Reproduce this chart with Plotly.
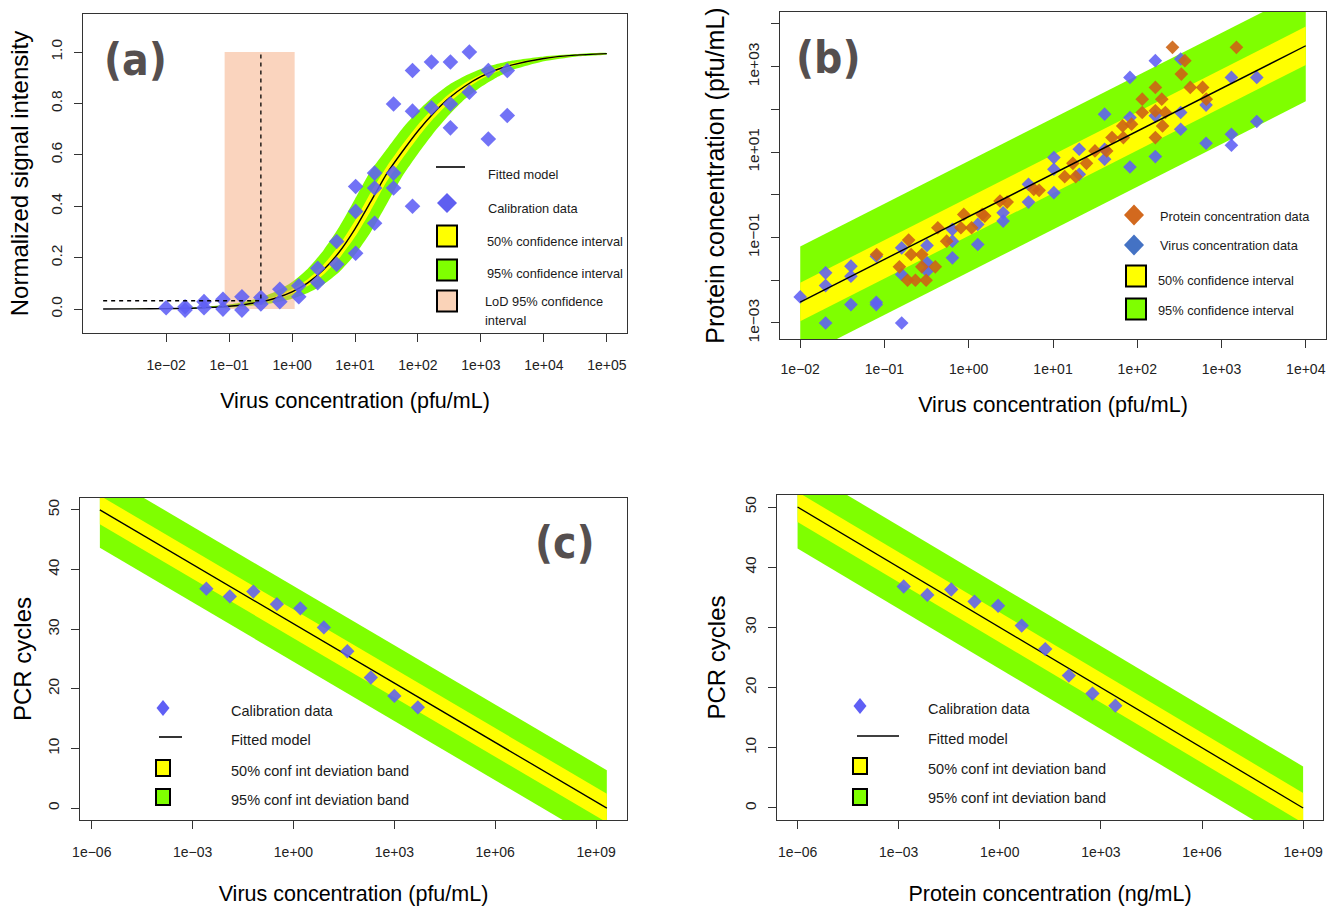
import numpy as np
import plotly.graph_objects as go

W, H = 1330, 909

# ---------------- Panel (a): signal vs virus concentration ----------------
sig_conc = [0.01, 0.02, 0.02, 0.04, 0.04, 0.08, 0.08, 0.16, 0.16, 0.32, 0.32,
            0.64, 0.64, 1.28, 1.28, 2.56, 2.56, 5.12, 5.12, 10.24, 10.24, 10.24,
            20.48, 20.48, 20.48, 40.96, 40.96, 40.96, 81.92, 81.92, 81.92,
            163.84, 163.84, 327.68, 327.68, 327.68, 655.36, 655.36,
            1310.72, 1310.72, 2621.44, 2621.44]
sig_signal = [0.005, 0.009, -0.004, 0.029, 0.005, 0.038, 0.0, 0.048, -0.004, 0.045, 0.02,
              0.077, 0.029, 0.091, 0.048, 0.159, 0.103, 0.263, 0.174, 0.477, 0.38, 0.217,
              0.529, 0.471, 0.334, 0.798, 0.529, 0.471, 0.928, 0.77, 0.40,
              0.961, 0.783, 0.961, 0.798, 0.705, 1.0, 0.844,
              0.928, 0.662, 0.928, 0.753]

sig_curve_log10x = [-3, -2.5, -2, -1.5, -1, -0.75, -0.5, -0.25, 0, 0.25, 0.5, 0.75, 1,
                    1.25, 1.5, 1.75, 2, 2.25, 2.5, 2.75, 3, 3.25, 3.5, 4, 4.5, 5]
sig_fit = [0.0003, 0.0007, 0.0018, 0.0045, 0.0112, 0.0177, 0.0278, 0.0433, 0.067, 0.102,
           0.153, 0.222, 0.312, 0.418, 0.525, 0.612, 0.693, 0.763, 0.822, 0.868, 0.904,
           0.931, 0.950, 0.975, 0.988, 0.994]
sig_ci50_lo = [0.0002, 0.0006, 0.0016, 0.0039, 0.0097, 0.0153, 0.0241, 0.0376, 0.0583, 0.0894,
               0.1346, 0.198, 0.281, 0.383, 0.495, 0.585, 0.668, 0.742, 0.804, 0.854, 0.894,
               0.923, 0.945, 0.972, 0.986, 0.993]
sig_ci50_hi = [0.0003, 0.0008, 0.0021, 0.0052, 0.0130, 0.0205, 0.0320, 0.0499, 0.0768, 0.1164,
               0.1728, 0.249, 0.344, 0.454, 0.553, 0.639, 0.717, 0.783, 0.838, 0.881, 0.913,
               0.938, 0.956, 0.978, 0.989, 0.995]
sig_ci95_lo = [0.0002, 0.0005, 0.0011, 0.0027, 0.0066, 0.0105, 0.0165, 0.0259, 0.0405, 0.063,
               0.096, 0.144, 0.212, 0.300, 0.407, 0.516, 0.604, 0.686, 0.757, 0.818, 0.864,
               0.901, 0.930, 0.964, 0.982, 0.991]
sig_ci95_hi = [0.0004, 0.0012, 0.0030, 0.0074, 0.0183, 0.0286, 0.0446, 0.069, 0.105, 0.157,
               0.229, 0.320, 0.428, 0.538, 0.621, 0.702, 0.771, 0.828, 0.874, 0.908, 0.934,
               0.953, 0.967, 0.983, 0.992, 0.996]
lod_conc = 0.32          # LoD estimate (pfu/mL)
lod_ci = [0.085, 1.1]    # LoD 95% confidence interval
lod_signal = 0.0325      # signal threshold
lod_box_signal = [0.0, 1.0]
sig_xmin = 0.001

# ---------------- Panel (b): protein vs virus concentration ----------------
virus_conc = [0.01,
              0.02, 0.02, 0.02,
              0.04, 0.04, 0.04,
              0.08, 0.08, 0.08,
              0.16, 0.16, 0.16,
              0.32, 0.32, 0.32,
              0.64, 0.64, 0.64,
              1.28, 1.28,
              2.56, 2.56,
              5.12, 5.12,
              10.24, 10.24, 10.24,
              20.48, 20.48,
              40.96, 40.96, 40.96,
              81.92, 81.92, 81.92,
              163.84, 163.84, 163.84,
              327.68, 327.68, 327.68,
              655.36, 655.36,
              1310.72, 1310.72, 1310.72,
              2621.44, 2621.44]
virus_prot_log10 = [-2.39,
                    -1.827, -2.124, -3.0,
                    -1.67, -1.905, -2.57,
                    -2.515, -2.57, -1.436,
                    -1.24, -1.866, -3.0,
                    -1.186, -1.592, -1.79,
                    -0.81, -1.084, -1.475,
                    -0.693, -1.162,
                    -0.419, -0.615,
                    0.246, -0.169,
                    0.871, 0.598, 0.05,
                    1.067, 0.48,
                    1.888, 1.067, 0.832,
                    2.748, 1.81, 0.652,
                    3.14, 1.85, 0.895,
                    3.18, 1.927, 1.536,
                    2.10, 1.208,
                    2.748, 1.419, 1.161,
                    2.748, 1.716]
protein_x_log10 = [-1.093, -0.823, -0.713, -0.684, -0.726, -0.633, -0.557, -0.557, -0.506,
                   -0.397, -0.367, -0.262, -0.093, -0.059, 0.034, 0.160, 0.190, 0.371,
                   0.456, 0.772, 0.835, 1.139, 1.236, 1.27, 1.397, 1.498, 1.637, 1.70,
                   1.827, 1.835, 1.932, 2.059, 2.059, 2.215, 2.215, 2.215, 2.291, 2.30,
                   2.333, 2.418, 2.523, 2.565, 2.629, 2.776, 2.819, 3.177]
protein_y_log10 = [-1.397, -1.686, -1.06, -1.397, -2.0, -2.0, -1.397, -1.686, -2.0,
                   -1.686, -0.771, -1.084, -0.771, -0.458, -0.771, -0.458, -0.497, -0.145,
                   -0.169, 0.128, 0.105, 0.426, 0.738, 0.426, 0.738, 1.028, 1.028, 1.341,
                   1.614, 1.341, 1.654, 2.24, 1.927, 2.514, 1.966, 1.341, 2.24, 1.614,
                   1.927, 3.452, 2.827, 3.14, 2.514, 2.514, 2.24, 3.452]
prot_fit_conc = [0.01, 1e4]
prot_fit_log10 = [-2.51, 3.49]
prot_ci50_lo_log10 = [-2.96, 3.04]
prot_ci50_hi_log10 = [-2.06, 3.94]
prot_ci95_lo_log10 = [-3.81, 2.19]
prot_ci95_hi_log10 = [-1.21, 4.79]

# ---------------- Panel (c): PCR cycles vs virus concentration ----------------
pcr_virus_conc = [0.00256, 0.0128, 0.064, 0.32, 1.6, 8, 40, 200, 1000, 5000]
pcr_virus_ct = [36.8, 35.5, 36.3, 34.2, 33.5, 30.3, 26.3, 21.9, 18.8, 16.9]
pcr_virus_fit_conc = [1.74e-6, 2.09e9]
pcr_virus_fit_ct = [50, 0]
pcr_virus_ci50_lo = [47.6, -2.4]
pcr_virus_ci50_hi = [52.4, 2.4]
pcr_virus_ci95_lo = [43.65, -6.35]
pcr_virus_ci95_hi = [56.35, 6.35]

# ---------------- Panel (d): PCR cycles vs protein concentration ----------------
pcr_prot_conc = [0.00141, 0.00708, 0.0363, 0.178, 0.891, 4.47, 22.4, 112, 562, 2690]
pcr_prot_ct = [36.8, 35.4, 36.3, 34.3, 33.6, 30.3, 26.4, 22.0, 19.0, 17.0]
pcr_prot_fit_conc = [1e-6, 1e9]
pcr_prot_fit_ct = [50, 0]
pcr_prot_ci50_lo = [47.5, -2.5]
pcr_prot_ci50_hi = [52.5, 2.5]
pcr_prot_ci95_lo = [43.1, -6.9]
pcr_prot_ci95_hi = [56.9, 6.9]

# tick labels
ticks_a_x = [1e-2, 1e-1, 1e0, 1e1, 1e2, 1e3, 1e4, 1e5]
ticks_a_xt = ["1e\u221202", "1e\u221201", "1e+00", "1e+01", "1e+02", "1e+03", "1e+04", "1e+05"]
ticks_a_y = [0, 0.2, 0.4, 0.6, 0.8, 1.0]
ticks_a_yt = ["0.0", "0.2", "0.4", "0.6", "0.8", "1.0"]
ticks_b_x = [1e-2, 1e-1, 1e0, 1e1, 1e2, 1e3, 1e4]
ticks_b_xt = ["1e\u221202", "1e\u221201", "1e+00", "1e+01", "1e+02", "1e+03", "1e+04"]
ticks_b_y = [1e-3, 1e-2, 1e-1, 1e0, 1e1, 1e2, 1e3, 1e4]
ticks_b_yt = ["1e\u221203", "", "1e\u221201", "", "1e+01", "", "1e+03", ""]
ticks_cd_x = [1e-6, 1e-3, 1e0, 1e3, 1e6, 1e9]
ticks_cd_xt = ["1e\u221206", "1e\u221203", "1e+00", "1e+03", "1e+06", "1e+09"]
ticks_cd_y = [0, 10, 20, 30, 40, 50]
ticks_cd_yt = ["0", "10", "20", "30", "40", "50"]

# ---------------- styles ----------------
GREEN = "#7FFF00"
YELLOW = "#FFFF00"
PEACH = "#FAD3B8"
PT_BLUE = "rgba(95,95,245,0.88)"
PT_ORANGE = "rgba(205,100,20,0.9)"
FONT = "Liberation Sans, Arial, sans-serif"
LABEL_FONT = "Liberation Sans Narrow, Arial Narrow, DejaVu Sans Condensed, Liberation Sans"


def PX(x):
    return x / W


def PY(y):
    return 1 - y / H


fig = go.Figure()


def band(xs, lo, hi, color, xa, ya):
    fig.add_trace(go.Scatter(x=list(xs) + list(xs)[::-1], y=list(hi) + list(lo)[::-1],
                             fill="toself", fillcolor=color, mode="lines",
                             line=dict(width=0, color=color), hoverinfo="skip",
                             showlegend=False, xaxis=xa, yaxis=ya))


# ---- panel (a) traces ----
sig_curve_x = np.power(10.0, sig_curve_log10x)
fig.add_trace(go.Scatter(x=list(sig_curve_x) + list(sig_curve_x)[::-1],
                         y=sig_ci95_hi + sig_ci95_lo[::-1], fill="toself", fillcolor=GREEN,
                         mode="lines", line=dict(width=0, color=GREEN, shape="spline", smoothing=0.6),
                         showlegend=False, xaxis="x", yaxis="y"))
fig.add_trace(go.Scatter(x=list(sig_curve_x) + list(sig_curve_x)[::-1],
                         y=sig_ci50_hi + sig_ci50_lo[::-1], fill="toself", fillcolor=YELLOW,
                         mode="lines", line=dict(width=0, color=YELLOW, shape="spline", smoothing=0.6),
                         showlegend=False, xaxis="x", yaxis="y"))
fig.add_trace(go.Scatter(x=[lod_ci[0], lod_ci[1], lod_ci[1], lod_ci[0]],
                         y=[lod_box_signal[0], lod_box_signal[0], lod_box_signal[1], lod_box_signal[1]],
                         fill="toself", fillcolor="rgba(245,160,110,0.45)", mode="lines",
                         line=dict(width=0), showlegend=False, xaxis="x", yaxis="y"))
fig.add_trace(go.Scatter(x=sig_curve_x, y=sig_fit, mode="lines",
                         line=dict(color="black", width=1.4, shape="spline", smoothing=0.6),
                         showlegend=False, xaxis="x", yaxis="y"))
fig.add_trace(go.Scatter(x=sig_conc, y=sig_signal, mode="markers",
                         marker=dict(symbol="diamond", size=12, color=PT_BLUE, line=dict(width=0)),
                         showlegend=False, xaxis="x", yaxis="y"))
fig.add_trace(go.Scatter(x=[sig_xmin, lod_conc, lod_conc], y=[lod_signal, lod_signal, lod_box_signal[1]],
                         mode="lines", line=dict(color="black", width=1.3, dash="4px,4px"),
                         showlegend=False, xaxis="x", yaxis="y"))

# ---- panel (b) traces ----
pfx = np.array(prot_fit_conc)
band(pfx, np.power(10.0, prot_ci95_lo_log10), np.power(10.0, prot_ci95_hi_log10), GREEN, "x2", "y2")
band(pfx, np.power(10.0, prot_ci50_lo_log10), np.power(10.0, prot_ci50_hi_log10), YELLOW, "x2", "y2")
fig.add_trace(go.Scatter(x=virus_conc, y=np.power(10.0, virus_prot_log10), mode="markers",
                         marker=dict(symbol="diamond", size=10.5, color=PT_BLUE, line=dict(width=0)),
                         showlegend=False, xaxis="x2", yaxis="y2"))
fig.add_trace(go.Scatter(x=np.power(10.0, protein_x_log10), y=np.power(10.0, protein_y_log10),
                         mode="markers",
                         marker=dict(symbol="diamond", size=10.5, color=PT_ORANGE, line=dict(width=0)),
                         showlegend=False, xaxis="x2", yaxis="y2"))
fig.add_trace(go.Scatter(x=pfx, y=np.power(10.0, prot_fit_log10), mode="lines",
                         line=dict(color="black", width=1.4), showlegend=False, xaxis="x2", yaxis="y2"))

# ---- panel (c) traces ----
band(pcr_virus_fit_conc, pcr_virus_ci95_lo, pcr_virus_ci95_hi, GREEN, "x3", "y3")
band(pcr_virus_fit_conc, pcr_virus_ci50_lo, pcr_virus_ci50_hi, YELLOW, "x3", "y3")
fig.add_trace(go.Scatter(x=pcr_virus_fit_conc, y=pcr_virus_fit_ct, mode="lines",
                         line=dict(color="black", width=1.3), showlegend=False, xaxis="x3", yaxis="y3"))
fig.add_trace(go.Scatter(x=pcr_virus_conc, y=pcr_virus_ct, mode="markers",
                         marker=dict(symbol="diamond", size=11, color=PT_BLUE, line=dict(width=0)),
                         showlegend=False, xaxis="x3", yaxis="y3"))

# ---- panel (d) traces ----
band(pcr_prot_fit_conc, pcr_prot_ci95_lo, pcr_prot_ci95_hi, GREEN, "x4", "y4")
band(pcr_prot_fit_conc, pcr_prot_ci50_lo, pcr_prot_ci50_hi, YELLOW, "x4", "y4")
fig.add_trace(go.Scatter(x=pcr_prot_fit_conc, y=pcr_prot_fit_ct, mode="lines",
                         line=dict(color="black", width=1.3), showlegend=False, xaxis="x4", yaxis="y4"))
fig.add_trace(go.Scatter(x=pcr_prot_conc, y=pcr_prot_ct, mode="markers",
                         marker=dict(symbol="diamond", size=11, color=PT_BLUE, line=dict(width=0)),
                         showlegend=False, xaxis="x4", yaxis="y4"))


# ---------------- axes ----------------
def axis(domain, anchor, rng, tickvals, ticktext, title, title_size, standoff, label_standoff,
         is_log, is_y):
    d = dict(domain=domain, anchor=anchor, range=rng, type="log" if is_log else "linear",
             showline=True, mirror=True, linecolor="#333333", linewidth=1.3,
             ticks="outside", ticklen=8, tickwidth=1.2, tickcolor="#333333",
             tickmode="array", tickvals=tickvals, ticktext=ticktext,
             tickfont=dict(family=FONT, size=15.5 if is_y else 14, color="#222222"),
             ticklabelstandoff=label_standoff,
             showgrid=False, zeroline=False, automargin=False,
             title=dict(text=title, font=dict(family=FONT, size=title_size, color="black"),
                        standoff=standoff))
    if is_y:
        d["tickangle"] = -90
    return d


layout = dict(
    width=W, height=H, autosize=False,
    margin=dict(l=0, r=0, t=0, b=0, pad=0),
    paper_bgcolor="white", plot_bgcolor="white", showlegend=False,
    xaxis=axis([PX(83), PX(627)], "y", [-3.32, 5.32], ticks_a_x, ticks_a_xt,
               "Virus concentration (pfu/mL)", 21.5, 20, 11, True, False),
    yaxis=axis([PY(333), PY(14)], "x", [-0.093, 1.148], ticks_a_y, ticks_a_yt,
               "Normalized signal intensity", 24, 12, 6, False, True),
    xaxis2=axis([PX(780), PX(1326)], "y2", [-2.24, 4.24], ticks_b_x, ticks_b_xt,
                "Virus concentration (pfu/mL)", 21.5, 20, 9, True, False),
    yaxis2=axis([PY(339), PY(12)], "x2", [-3.375, 4.28], ticks_b_y, ticks_b_yt,
                "Protein concentration (pfu/mL)", 25, 12, 6, True, True),
    xaxis3=axis([PX(80), PX(627)], "y3", [-6.35, 9.92], ticks_cd_x, ticks_cd_xt,
                "Virus concentration (pfu/mL)", 21.5, 26, 11, True, False),
    yaxis3=axis([PY(820), PY(498)], "x3", [-2, 52], ticks_cd_y, ticks_cd_yt,
                "PCR cycles", 24, 6, 6, False, True),
    xaxis4=axis([PX(777), PX(1323)], "y4", [-6.61, 9.59], ticks_cd_x, ticks_cd_xt,
                "Protein concentration (ng/mL)", 21.5, 26, 11, True, False),
    yaxis4=axis([PY(820), PY(495)], "x4", [-2, 52], ticks_cd_y, ticks_cd_yt,
                "PCR cycles", 24, 9, 6, False, True),
)
fig.update_layout(**layout)

# ---------------- panel letters ----------------
for txt, x, y in [("(a)", 135, 59), ("(b)", 828, 58), ("(c)", 565, 542)]:
    fig.add_annotation(text=txt, x=PX(x), y=PY(y), xref="paper", yref="paper",
                       xanchor="center", yanchor="middle", showarrow=False,
                       font=dict(family=LABEL_FONT, size=44, color="#554f4f", weight=700))

# ---------------- legends (drawn as shapes + text) ----------------
shapes = []
annos = []


def leg_text(txt, x, y, size):
    annos.append(dict(text=txt, x=PX(x), y=PY(y), xref="paper", yref="paper",
                      xanchor="left", yanchor="middle", showarrow=False,
                      font=dict(family=FONT, size=size, color="#1a1a1a")))


def leg_line(x0, x1, y):
    shapes.append(dict(type="line", xref="paper", yref="paper", x0=PX(x0), x1=PX(x1),
                       y0=PY(y), y1=PY(y), line=dict(color="black", width=1.6), layer="above"))


def leg_diamond(x, y, hw, hh, color):
    shapes.append(dict(type="path", xref="paper", yref="paper", xsizemode="pixel",
                       ysizemode="pixel", xanchor=PX(x), yanchor=PY(y),
                       path=f"M{-hw},0 L0,{hh} L{hw},0 L0,{-hh} Z",
                       fillcolor=color, line=dict(width=0), layer="above"))


def leg_square(x, y, hw, hh, color):
    shapes.append(dict(type="rect", xref="paper", yref="paper", xsizemode="pixel",
                       ysizemode="pixel", xanchor=PX(x), yanchor=PY(y),
                       x0=-hw, x1=hw, y0=-hh, y1=hh,
                       fillcolor=color, line=dict(color="black", width=2), layer="above"))


# (a)
leg_line(436, 465, 167)
leg_text("Fitted model", 486, 174, 12.8)
leg_diamond(447, 203, 10, 10, "rgb(95,95,240)")
leg_text("Calibration data", 486, 209, 12.8)
leg_square(447, 236, 10, 10.5, YELLOW)
leg_text("50% confidence interval", 485, 241, 12.8)
leg_square(447, 270, 10, 10.5, GREEN)
leg_text("95% confidence interval", 485, 274, 12.8)
leg_square(447, 301, 10, 10.5, PEACH)
leg_text("LoD 95% confidence", 483, 302, 12.8)
leg_text("interval", 483, 321, 12.8)

# (b)
leg_diamond(1134, 215, 10, 10.5, "#D2691E")
leg_text("Protein concentration data", 1158, 216, 12.8)
leg_diamond(1134, 245, 10, 10.5, "#4472C4")
leg_text("Virus concentration data", 1158, 246, 12.8)
leg_square(1136, 276, 10, 10.5, YELLOW)
leg_text("50% confidence interval", 1156, 280, 12.8)
leg_square(1136, 309, 10, 10.5, GREEN)
leg_text("95% confidence interval", 1156, 311, 12.8)

# (c)
leg_diamond(163, 708, 6.5, 8, "rgb(95,95,245)")
leg_text("Calibration data", 229, 711, 14.5)
leg_line(159, 182, 737)
leg_text("Fitted model", 229, 740, 14.5)
leg_square(163, 768, 7, 8, YELLOW)
leg_text("50% conf int deviation band", 229, 771, 14.5)
leg_square(163, 797, 7, 8, GREEN)
leg_text("95% conf int deviation band", 229, 800, 14.5)

# (d)
leg_diamond(860, 706, 6.5, 8, "rgb(95,95,245)")
leg_text("Calibration data", 926, 709, 14.5)
leg_line(857, 899, 736)
leg_text("Fitted model", 926, 739, 14.5)
leg_square(860, 766, 7, 8, YELLOW)
leg_text("50% conf int deviation band", 926, 769, 14.5)
leg_square(860, 797, 7, 8, GREEN)
leg_text("95% conf int deviation band", 926, 798, 14.5)

fig.update_layout(shapes=shapes)
for a in annos:
    fig.add_annotation(**a)

fig.write_html("out.html")
